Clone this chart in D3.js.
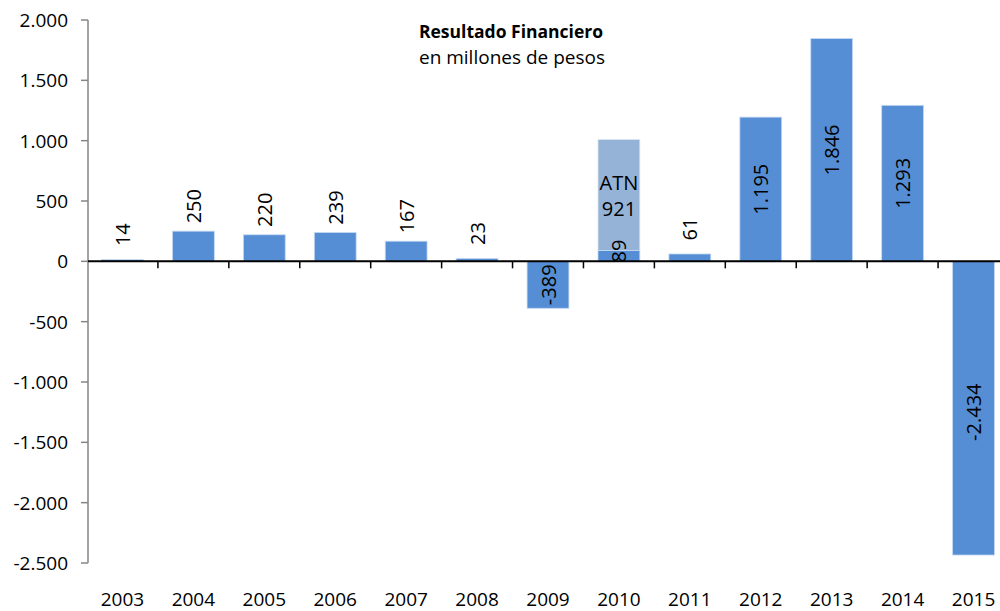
<!DOCTYPE html>
<html><head><meta charset="utf-8">
<script src="https://cdn.jsdelivr.net/npm/d3@7"></script>
<style>body{margin:0;background:#fff}svg{display:block}text{font-family:"Open Sans",sans-serif}</style>
</head><body><svg id="c" width="1000" height="611"></svg>
<script>
const years = ["2003","2004","2005","2006","2007","2008","2009","2010","2011","2012","2013","2014","2015"];
const resultado = [14,250,220,239,167,23,-389,89,61,1195,1846,1293,-2434];
const atn = [0,0,0,0,0,0,0,921,0,0,0,0,0];
const yTicks = [-2500,-2000,-1500,-1000,-500,0,500,1000,1500,2000];
const title = "Resultado Financiero";
const subtitle = "en millones de pesos";
const atnLabel = "ATN";

const loc = d3.formatLocale({decimal:",",thousands:".",grouping:[3],currency:["$",""],minus:"-"});
const fmt = loc.format(",d");
const svg = d3.select("#c");
const x = d3.scaleBand().domain(years).range([87,1009]).paddingInner(0.41).paddingOuter(0.205);
const y = d3.scaleLinear().domain([-2500,2000]).range([563,20]);
const blue = "#558ED5", light = "#95B3D7", fs = 19, dfs = 20;

// y axis
svg.append("line").attr("x1",88).attr("x2",88).attr("y1",y(2000)).attr("y2",y(-2500)).attr("stroke","#868686").attr("stroke-width",1.5);
yTicks.forEach(t=>{
  svg.append("line").attr("x1",81).attr("x2",88).attr("y1",y(t)).attr("y2",y(t)).attr("stroke","#868686").attr("stroke-width",1.5);
  svg.append("text").attr("x",68).attr("y",y(t)).attr("text-anchor","end").attr("dominant-baseline","central").attr("font-size",fs).attr("fill","#000").text(fmt(t));
});

// bars
const data = years.map((yr,i)=>({yr,v:resultado[i],a:atn[i]}));
svg.selectAll("rect.atn").data(data.filter(d=>d.a>0)).join("rect")
  .attr("x",d=>x(d.yr)).attr("width",x.bandwidth())
  .attr("y",d=>y(d.v+d.a)).attr("height",d=>y(d.v)-y(d.v+d.a))
  .attr("fill",light).attr("stroke","#dce6f2").attr("stroke-width",0.8);
svg.selectAll("rect.main").data(data).join("rect")
  .attr("x",d=>x(d.yr)).attr("width",x.bandwidth())
  .attr("y",d=>y(Math.max(0,d.v))).attr("height",d=>Math.abs(y(d.v)-y(0)))
  .attr("fill",blue).attr("stroke","#c6d9f1").attr("stroke-width",0.8);

// data labels
data.forEach(d=>{
  const cx = x(d.yr)+x.bandwidth()/2;
  const h = Math.abs(y(d.v)-y(0));
  let cy;
  if (d.v<0 || h>80 || d.a>0) cy = (y(d.v)+y(0))/2 - (d.a>0?5:0);
  else cy = y(d.v)-25;
  if (d.v===-2434) cy += 4;
  svg.append("text").attr("transform",`translate(${cx},${cy}) rotate(-90)`)
    .attr("text-anchor","middle").attr("dominant-baseline","central").attr("font-size",dfs).attr("fill","#000").text(fmt(d.v));
  if (d.a>0){
    const my = (y(d.v+d.a)+y(d.v))/2;
    svg.append("text").attr("x",cx).attr("y",my-13).attr("text-anchor","middle").attr("dominant-baseline","central").attr("font-size",dfs).text(atnLabel);
    svg.append("text").attr("x",cx).attr("y",my+13).attr("text-anchor","middle").attr("dominant-baseline","central").attr("font-size",dfs).text(fmt(d.a));
  }
});

// zero axis
svg.append("line").attr("x1",88).attr("x2",1000).attr("y1",y(0)).attr("y2",y(0)).attr("stroke","#000").attr("stroke-width",2);
years.slice(1).forEach(yr=>{
  const tx = x(yr) - (x.step()-x.bandwidth())/2;
  svg.append("line").attr("x1",tx).attr("x2",tx).attr("y1",y(0)).attr("y2",y(0)+7).attr("stroke","#000").attr("stroke-width",1.5);
});

// x labels
years.forEach(yr=>{
  svg.append("text").attr("x",x(yr)+x.bandwidth()/2).attr("y",606).attr("text-anchor","middle").attr("font-size",fs).text(yr);
});

// title
svg.append("text").attr("x",511).attr("y",38).attr("text-anchor","middle").attr("font-size",17.5).attr("font-weight","bold").text(title);
svg.append("text").attr("x",512).attr("y",64).attr("text-anchor","middle").attr("font-size",19).text(subtitle);
</script></body></html>
